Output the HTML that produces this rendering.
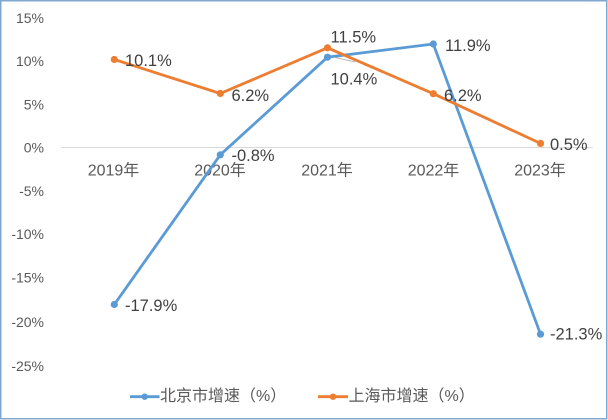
<!DOCTYPE html>
<html>
<head>
<meta charset="utf-8">
<style>
  html,body{margin:0;padding:0;background:#fff;}
  svg{display:block;}
  text{font-family:"Liberation Sans","Noto Sans CJK SC",sans-serif;}
</style>
</head>
<body>
<svg width="608" height="420" viewBox="0 0 608 420" xmlns="http://www.w3.org/2000/svg">
  <rect x="0" y="0" width="608" height="420" fill="#ffffff"/>
  <rect x="0.75" y="0.75" width="606" height="418" fill="none" stroke="#7fa8d0" stroke-width="1.5"/>

  <!-- y axis labels -->
  <g font-size="14" fill="#595959" text-anchor="end" dominant-baseline="central">
    <text x="44" y="18">15%</text>
    <text x="44" y="61">10%</text>
    <text x="44" y="104.5">5%</text>
    <text x="44" y="147.5">0%</text>
    <text x="44" y="191">-5%</text>
    <text x="44" y="234">-10%</text>
    <text x="44" y="277.5">-15%</text>
    <text x="44" y="322">-20%</text>
    <text x="44" y="366">-25%</text>
  </g>

  <!-- zero line -->
  <line x1="61" y1="147.5" x2="593" y2="147.5" stroke="#d9d9d9" stroke-width="1"/>

  <!-- category labels -->
  <g font-size="16" fill="#595959" text-anchor="middle" dominant-baseline="central">
    <text x="113.5" y="171">2019年</text>
    <text x="220" y="171">2020年</text>
    <text x="327" y="171">2021年</text>
    <text x="433.5" y="171">2022年</text>
    <text x="540" y="171">2023年</text>
  </g>

  <!-- Beijing series -->
  <polyline points="114.3,304.5 220.3,154.8 327.5,57.2 433.3,44 540.5,334.2" fill="none" stroke="#5b9bd5" stroke-width="2.8" stroke-linejoin="round"/>
  <g fill="#5b9bd5">
    <circle cx="114.3" cy="304.5" r="3.6"/>
    <circle cx="220.3" cy="154.8" r="3.6"/>
    <circle cx="327.5" cy="57.2" r="3.6"/>
    <circle cx="433.3" cy="44" r="3.6"/>
    <circle cx="540.5" cy="334.2" r="3.6"/>
  </g>

  <!-- Shanghai series -->
  <polyline points="114.3,59.5 220.3,93.5 327.5,47.8 433.3,93.7 540.5,143.4" fill="none" stroke="#ed7d31" stroke-width="2.8" stroke-linejoin="round"/>
  <g fill="#ed7d31">
    <circle cx="114.3" cy="59.5" r="3.6"/>
    <circle cx="220.3" cy="93.5" r="3.6"/>
    <circle cx="327.5" cy="47.8" r="3.6"/>
    <circle cx="433.3" cy="93.7" r="3.6"/>
    <circle cx="540.5" cy="143.4" r="3.6"/>
  </g>

  <!-- leader line for 10.4% -->
  <line x1="333" y1="57" x2="355" y2="62" stroke="#a6a6a6" stroke-width="0.8"/>

  <!-- data labels -->
  <g font-size="16.5" fill="#404040" dominant-baseline="central">
    <text x="125" y="61">10.1%</text>
    <text x="231.5" y="96">6.2%</text>
    <text x="231.5" y="156">-0.8%</text>
    <text x="330.5" y="37.5">11.5%</text>
    <text x="330.5" y="79.5">10.4%</text>
    <text x="445" y="46">11.9%</text>
    <text x="444" y="96">6.2%</text>
    <text x="550" y="145">0.5%</text>
    <text x="125" y="306">-17.9%</text>
    <text x="550" y="334.5">-21.3%</text>
  </g>

  <!-- legend -->
  <line x1="130" y1="396.7" x2="159.5" y2="396.7" stroke="#5b9bd5" stroke-width="2.8"/>
  <circle cx="144.7" cy="396.7" r="3.2" fill="#5b9bd5"/>
  <text x="160" y="396.5" font-size="16" fill="#595959" dominant-baseline="central">北京市增速（%）</text>
  <line x1="318" y1="396.7" x2="348" y2="396.7" stroke="#ed7d31" stroke-width="2.8"/>
  <circle cx="333" cy="396.7" r="3.2" fill="#ed7d31"/>
  <text x="348.5" y="396.5" font-size="16" fill="#595959" dominant-baseline="central">上海市增速（%）</text>
</svg>
</body>
</html>
